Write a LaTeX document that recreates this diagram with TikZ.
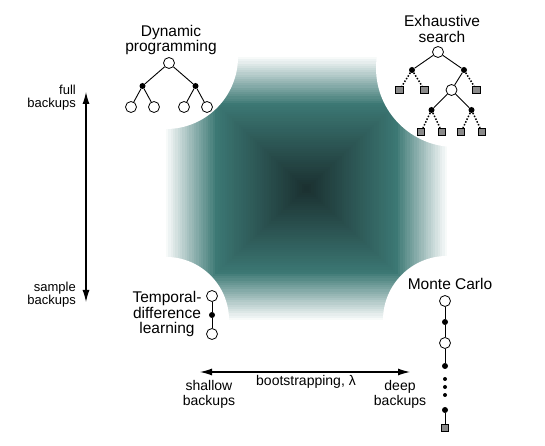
\documentclass[tikz,border=0pt]{standalone}
\usepackage{fontspec}
\setmainfont{Liberation Sans}
\usetikzlibrary{arrows.meta,calc}
\definecolor{gradTeal}{HTML}{3C7874}
\definecolor{gradDark}{HTML}{1B3131}
\definecolor{leafGray}{HTML}{8A8A8A}

\begin{document}
\begin{tikzpicture}
[
    x=1pt, y=1pt,
    opennode/.style={circle, draw, fill=white, line width=0.8pt, inner sep=0pt, minimum size=11pt},
    fullnode/.style={circle, fill=black, inner sep=0pt, minimum size=6pt},
    leafnode/.style={rectangle, draw, fill=leafGray, line width=0.7pt, inner sep=0pt, minimum size=7.5pt},
    elldot/.style={circle, fill=black, inner sep=0pt, minimum size=4pt},
    treeline/.style={line width=0.9pt},
    edge from parent/.style={draw, treeline},
    sampled/.style={edge from parent/.style={draw, line width=1.5pt, dash pattern=on 1.5pt off 1.6pt}},
    title/.style={font=\fontsize{15.5}{15.5}\selectfont, align=center, inner sep=0pt},
    sidelabel/.style={font=\fontsize{13}{13}\selectfont, align=right, inner sep=0pt},
    axislabel/.style={font=\fontsize{14}{15}\selectfont, align=center, inner sep=0pt},
    axis/.style={line width=1.1pt, {Latex[length=12pt,width=7pt]}-{Latex[length=12pt,width=7pt]}},
]
\useasboundingbox (0,0) rectangle (545,446);

\coordinate (mid) at (306.5,257.5);
\foreach \i in {60,...,1}{
    \pgfmathtruncatemacro\tealPct{min(100,(61-\i)*100/22)}
    \pgfmathtruncatemacro\restPct{100-max(0,(39-\i)*100/38)}
    \fill[gradTeal!\tealPct!white!\restPct!gradDark]
        ($(mid)+(-2.3417*\i,-2.1917*\i)$) rectangle ($(mid)+(2.3417*\i,2.1917*\i)$);
}
\fill[white] (166,389) circle[radius=72];
\fill[white] (455,378) circle[radius=79];
\fill[white] (166,126) circle[radius=63];
\fill[white] (447,126) circle[radius=64];

\node[title] (dpTitle) at (171,406) {Dynamic\\programming};
\begin{scope}[level 1/.style={sibling distance=53pt, level distance=23pt},
              level 2/.style={sibling distance=23pt, level distance=21pt}]
\node[opennode] (dpRoot) at (169,383) {}
    child {node[fullnode] (dpLeft) {}
        child {node[opennode] {}}
        child {node[opennode] {}}}
    child {node[fullnode] (dpRight) {}
        child {node[opennode] {}}
        child {node[opennode] {}}};
\end{scope}

\node[title] (esTitle) at (442,417) {Exhaustive\\search};
\begin{scope}[level 1/.style={sibling distance=52pt, level distance=18pt},
              level 2/.style={sibling distance=25pt, level distance=20pt},
              level 3/.style={sibling distance=40pt, level distance=20pt},
              level 4/.style={sibling distance=21pt, level distance=22pt}]
\node[opennode] (esRoot) at (438,394) {}
    child {node[fullnode] (esLeft) {}
        child[sampled] {node[leafnode] {}}
        child[sampled] {node[leafnode] {}}}
    child {node[fullnode] (esRight) {}
        child {node[opennode] (esMid) {}
            child {node[fullnode] {}
                child[sampled] {node[leafnode] {}}
                child[sampled] {node[leafnode] {}}}
            child {node[fullnode] {}
                child[sampled] {node[leafnode] {}}
                child[sampled] {node[leafnode] {}}}}
        child[sampled] {node[leafnode] {}}};
\end{scope}

\node[title] (tdTitle) at (167,132) {Temporal-\\difference\\learning};
\node[opennode] (td1) at (212,150) {};
\node[fullnode] (td2) at (212,131) {};
\node[opennode] (td3) at (212,112) {};
\draw[treeline] (td1) -- (td2) -- (td3);

\node[title, anchor=base] (mcTitle) at (450,156) {Monte Carlo};
\node[opennode] (mc1) at (445,145) {};
\node[fullnode] (mc2) at (445,124) {};
\node[opennode] (mc3) at (445,103) {};
\node[fullnode] (mc4) at (445,80) {};
\foreach \y/\n in {67/a,59/b,51/c}
    \node[elldot] (mcDot\n) at (445,\y) {};
\node[fullnode] (mc5) at (445,36) {};
\node[leafnode] (mc6) at (445,18) {};
\draw[treeline] (mc1) -- (mc2) -- (mc3) -- (mc4);
\draw[treeline] (mc5) -- (mc6);

\node[sidelabel, anchor=east] (fullLbl) at (76,348) {full\\backups};
\node[sidelabel, anchor=east] (sampleLbl) at (76,151) {sample\\backups};
\coordinate (fullTip) at (86,354);
\coordinate (sampleTip) at (86,144);
\draw[axis] (fullTip) -- (sampleTip);

\node[axislabel] (shallowLbl) at (209,52) {shallow\\backups};
\node[axislabel] (deepLbl) at (400,52) {deep\\backups};
\node[axislabel, anchor=base] (bootLbl) at (306,60) {bootstrapping, λ};
\coordinate (shallowTip) at (200,74);
\coordinate (deepTip) at (410,74);
\draw[axis] (shallowTip) -- (deepTip);
\end{tikzpicture}
\end{document}
